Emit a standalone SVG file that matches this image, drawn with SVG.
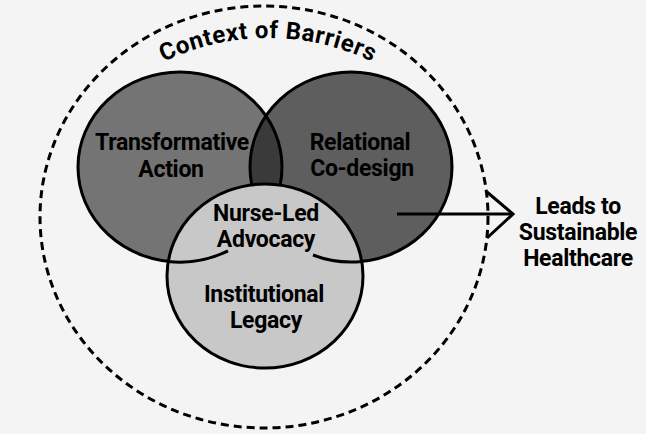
<svg xmlns="http://www.w3.org/2000/svg" width="646" height="434" viewBox="0 0 646 434">
  <style>
    .lbl { font-family: Roboto, "Liberation Sans", Arial, sans-serif; font-weight: 700; font-size: 23px; letter-spacing: -0.3px; fill: #000; text-anchor: middle; }
    .ttl { font-family: Roboto, "Liberation Sans", Arial, sans-serif; font-weight: 700; font-size: 24px; letter-spacing: 0.6px; fill: #000; }
    .edge { fill: none; stroke: #000; stroke-width: 3; }
    .dash { fill: none; stroke: #000; stroke-width: 3; stroke-dasharray: 8 5; }
  </style>
  <defs>
    <clipPath id="clipLeft">
      <ellipse cx="180" cy="167" rx="102" ry="95"/>
    </clipPath>
    <path id="titleArc" d="M68,145.3 A240,240 0 0,1 468,145.3"/>
  </defs>
  <rect width="646" height="434" fill="#f4f4f4"/>

  <g id="context">
    <ellipse class="dash" cx="264" cy="217" rx="224" ry="211"/>
    <text class="ttl"><textPath href="#titleArc" startOffset="50%" text-anchor="middle">Context of Barriers</textPath></text>
  </g>

  <g id="transformative-action">
    <ellipse cx="180" cy="167" rx="102" ry="95" fill="#747474"/>
  </g>
  <g id="relational-codesign">
    <ellipse cx="351" cy="167" rx="101" ry="95" fill="#5e5e5e"/>
  </g>
  <g id="overlap-lens">
    <ellipse cx="351" cy="167" rx="101" ry="95" fill="#3a3a3a" clip-path="url(#clipLeft)"/>
  </g>
  <g id="outlines">
    <ellipse class="edge" cx="180" cy="167" rx="102" ry="95"/>
    <ellipse class="edge" cx="351" cy="167" rx="101" ry="95"/>
  </g>

  <g id="institutional-legacy">
    <ellipse cx="265" cy="276" rx="98" ry="92" fill="#c8c8c8" stroke="#000" stroke-width="3"/>
    <path class="edge" d="M168,261.5 A102,95 0 0,0 228,250.8"/>
    <path class="edge" d="M313,255 A101,95 0 0,0 362,261.4"/>
    <text class="lbl" x="264" y="302">Institutional</text>
    <text class="lbl" x="266" y="328">Legacy</text>
  </g>

  <g id="labels-top">
    <text class="lbl" x="172" y="150">Transformative</text>
    <text class="lbl" x="171" y="177">Action</text>
    <text class="lbl" x="360" y="150">Relational</text>
    <text class="lbl" x="362" y="176">Co-design</text>
  </g>

  <g id="nurse-led-advocacy">
    <text class="lbl" x="266" y="221">Nurse-Led</text>
    <text class="lbl" x="266" y="247">Advocacy</text>
  </g>

  <g id="connectors">
    <line class="edge" x1="397" y1="214" x2="512" y2="214"/>
    <polyline class="edge" points="487,192 513,214 487,238"/>
  </g>

  <g id="outcome">
    <text class="lbl" x="578" y="214">Leads to</text>
    <text class="lbl" x="578" y="240">Sustainable</text>
    <text class="lbl" x="578" y="266">Healthcare</text>
  </g>
</svg>
